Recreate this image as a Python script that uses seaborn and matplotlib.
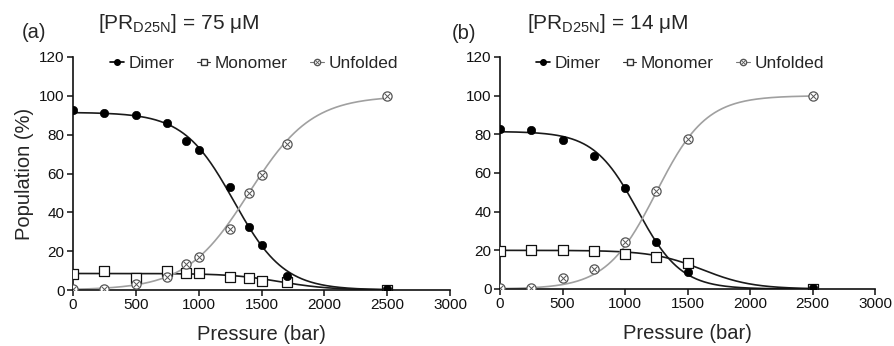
import numpy as np
import pandas as pd
import matplotlib
matplotlib.use("Agg")
import matplotlib.pyplot as plt
import seaborn as sns
from matplotlib.lines import Line2D
from matplotlib.legend_handler import HandlerTuple

sns.set_style("ticks")
plt.rcParams['font.family'] = ['Liberation Sans', 'DejaVu Sans']
plt.rcParams['mathtext.fontset'] = 'custom'
plt.rcParams['mathtext.rm'] = 'Liberation Sans'
plt.rcParams['mathtext.it'] = 'Liberation Sans:italic'

# panel (a): [PR D25N] = 75 uM
pressure_a = [0, 250, 500, 750, 900, 1000, 1250, 1400, 1500, 1700, 2500]
dimer_a = [92.6, 91.2, 90.0, 86.0, 76.6, 72.3, 53.0, 32.3, 23.4, 7.2, 0.3]
monomer_a = [8.4, 9.6, 6.0, 9.6, 8.5, 8.5, 6.7, 6.0, 4.6, 4.3, 0.0]
unfolded_a = [0.4, 0.4, 3.0, 6.7, 13.2, 17.0, 31.3, 49.8, 59.1, 75.1, 100.0]

# panel (b): [PR D25N] = 14 uM
pressure_b = [0, 250, 500, 750, 1000, 1250, 1500, 2500]
dimer_b = [82.8, 82.2, 76.9, 69.0, 52.2, 24.3, 8.6, 0.3]
monomer_b = [19.5, 20.3, 20.0, 19.5, 18.3, 16.4, 13.6, 0.0]
unfolded_b = [0.3, 0.3, 5.7, 10.3, 24.3, 50.5, 77.6, 100.0]

# fitted sigmoids: plateau, midpoint (bar), width (bar; negative = rising)
fit_a = {'Dimer': (91.5, 1280, 200), 'Monomer': (8.5, 1650, 200), 'Unfolded': (100.0, 1400, -250)}
fit_b = {'Dimer': (81.5, 1100, 175), 'Monomer': (20.0, 1620, 200), 'Unfolded': (100.0, 1250, -200)}

titles = ['(a)', '(b)']
concs = ['[PR$_{\\mathrm{D25N}}$] = 75 \u03bcM', '[PR$_{\\mathrm{D25N}}$] = 14 \u03bcM']


def sigmoid(x, top, mid, width):
    return top / (1 + np.exp((x - mid) / width))


fig = plt.figure(figsize=(8.94, 3.46), dpi=100)
ax_a = fig.add_axes([73 / 894, 1 - 290 / 346, 377 / 894, 233 / 346])
ax_b = fig.add_axes([500 / 894, 1 - 289 / 346, 375 / 894, 232 / 346])

curve_colors = {'Dimer': '#1a1a1a', 'Monomer': '#1a1a1a', 'Unfolded': '#a0a0a0'}
x_fit = np.linspace(0, 2500, 400)

panels = [
    (ax_a, pressure_a, dimer_a, monomer_a, unfolded_a, fit_a),
    (ax_b, pressure_b, dimer_b, monomer_b, unfolded_b, fit_b),
]

for ax, p, dim, mon, unf, fit in panels:
    for name, (top, mid, width) in fit.items():
        curve = pd.DataFrame({'p': x_fit, 'y': sigmoid(x_fit, top, mid, width)})
        sns.lineplot(data=curve, x='p', y='y', color=curve_colors[name], lw=1.2, ax=ax, zorder=2)

    sns.scatterplot(x=p, y=mon, marker='s', s=42, color='white', edgecolor='#111111',
                    linewidth=0.9, ax=ax, zorder=3)
    sns.scatterplot(x=p, y=unf, marker='o', s=44, color='white', edgecolor='#555555',
                    linewidth=0.9, ax=ax, zorder=4)
    sns.scatterplot(x=p, y=unf, marker='x', s=16, color='#555555',
                    linewidth=0.7, ax=ax, zorder=5)
    sns.scatterplot(x=p, y=dim, marker='o', s=36, color='black', edgecolor='black',
                    linewidth=0.5, ax=ax, zorder=6)

    ax.set_xlim(0, 3000)
    ax.set_ylim(0, 120)
    ax.set_xticks(range(0, 3001, 500))
    ax.set_yticks(range(0, 121, 20))
    ax.tick_params(labelsize=11, length=4, width=1.1, colors='#111111', pad=2)
    for s in ['left', 'bottom']:
        ax.spines[s].set_linewidth(1.2)
        ax.spines[s].set_color('#111111')
    sns.despine(ax=ax)
    ax.set_xlabel('Pressure (bar)', fontsize=14.5, labelpad=9)
    ax.set_ylabel('')

    h_dim = Line2D([], [], color='black', lw=1.2, marker='o', ms=4)
    h_mon = Line2D([], [], color='#333333', lw=0.8, marker='s', ms=4.5, mfc='white', mec='#333333')
    h_unf_o = Line2D([], [], color='#777777', lw=0.8, marker='o', ms=4.5, mfc='white', mec='#555555')
    h_unf_x = Line2D([], [], ls='none', marker='x', ms=2.5, mec='#555555', mew=0.6)
    ax.legend([h_dim, h_mon, (h_unf_o, h_unf_x)], ['Dimer', 'Monomer', 'Unfolded'],
              handler_map={tuple: HandlerTuple(ndivide=1, pad=0)},
              loc='center', bbox_to_anchor=(0.48, 0.972), ncol=3, frameon=False,
              fontsize=12.4, handlelength=0.8, handletextpad=0.25, columnspacing=1.3,
              borderpad=0)

ax_a.set_ylabel('Population (%)', fontsize=14.5, labelpad=4)

fig.text(22 / 894, 1 - 38 / 346, titles[0], fontsize=14.5, va='baseline', ha='left')
fig.text(98 / 894, 1 - 29 / 346, concs[0], fontsize=15, va='baseline', ha='left')
fig.text(452 / 894, 1 - 39 / 346, titles[1], fontsize=14.5, va='baseline', ha='left')
fig.text(527 / 894, 1 - 29 / 346, concs[1], fontsize=15, va='baseline', ha='left')

fig.savefig('out.png', dpi=100, facecolor='white')
